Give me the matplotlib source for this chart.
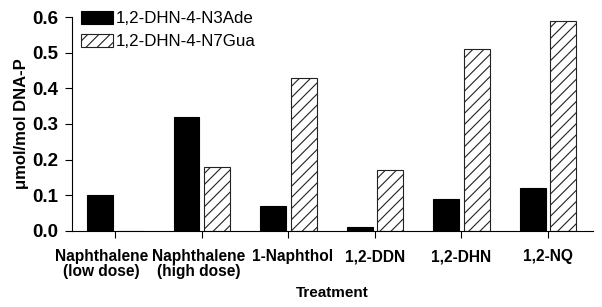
import numpy as np
import matplotlib
matplotlib.use('Agg')
import matplotlib.pyplot as plt
from matplotlib.transforms import ScaledTranslation

plt.rcParams['font.family'] = ['Liberation Sans', 'DejaVu Sans']
plt.rcParams['hatch.linewidth'] = 0.8

treatments = ['Naphthalene\n(low dose)', 'Naphthalene\n(high dose)', '1-Naphthol',
              '1,2-DDN', '1,2-DHN', '1,2-NQ']
n3ade = [0.10, 0.32, 0.07, 0.01, 0.09, 0.12]
n7gua = [0.0, 0.18, 0.43, 0.17, 0.51, 0.59]
series_names = ['1,2-DHN-4-N3Ade', '1,2-DHN-4-N7Gua']

fig = plt.figure(figsize=(6.02, 3.07), dpi=100)
ax = fig.add_axes([0.1196, 0.2476, 0.8654, 0.697])

x = np.arange(len(treatments))
w = 0.3
off = 0.177
ax.bar(x - off, n3ade, w, color='black', edgecolor='black', linewidth=0.8,
       label=series_names[0])
ax.bar(x + off, n7gua, w, color='white', edgecolor='#222222', linewidth=0.8,
       hatch='///', label=series_names[1])

ax.set_xlim(-0.5, 5.52)
ax.set_ylim(0, 0.6)
ax.set_yticks([0.0, 0.1, 0.2, 0.3, 0.4, 0.5, 0.6])
ax.set_yticklabels(['0.0', '0.1', '0.2', '0.3', '0.4', '0.5', '0.6'],
                   fontsize=13.5, fontweight='bold')
ax.set_xticks(x)
ax.set_xticklabels(treatments, fontsize=11.2, fontweight='bold', linespacing=1.0)
ax.tick_params(axis='both', direction='out', length=5, width=0.8)
ax.tick_params(axis='y', pad=5)
ax.tick_params(axis='x', pad=8)

# crowded first two labels sit a little left of their ticks
shifts = [-0.14, -0.03, 0.04, 0, 0, 0]
for lbl, dx in zip(ax.get_xticklabels(), shifts):
    lbl.set_transform(lbl.get_transform() + ScaledTranslation(dx, 0, fig.dpi_scale_trans))

for s in ['top', 'right']:
    ax.spines[s].set_visible(False)
for s in ['left', 'bottom']:
    ax.spines[s].set_linewidth(0.8)

ax.set_ylabel('\u03bcmol/mol DNA-P', fontsize=12, fontweight='bold', labelpad=2)
ax.set_xlabel('Treatment', fontsize=11, fontweight='bold', labelpad=5)

ax.legend(loc='upper left', bbox_to_anchor=(0.004, 1.058), frameon=False,
          fontsize=12.2, handlelength=1.9, handleheight=0.75, handletextpad=0.15,
          labelspacing=0.45, borderaxespad=0.0)

fig.savefig('out.png', dpi=100)
